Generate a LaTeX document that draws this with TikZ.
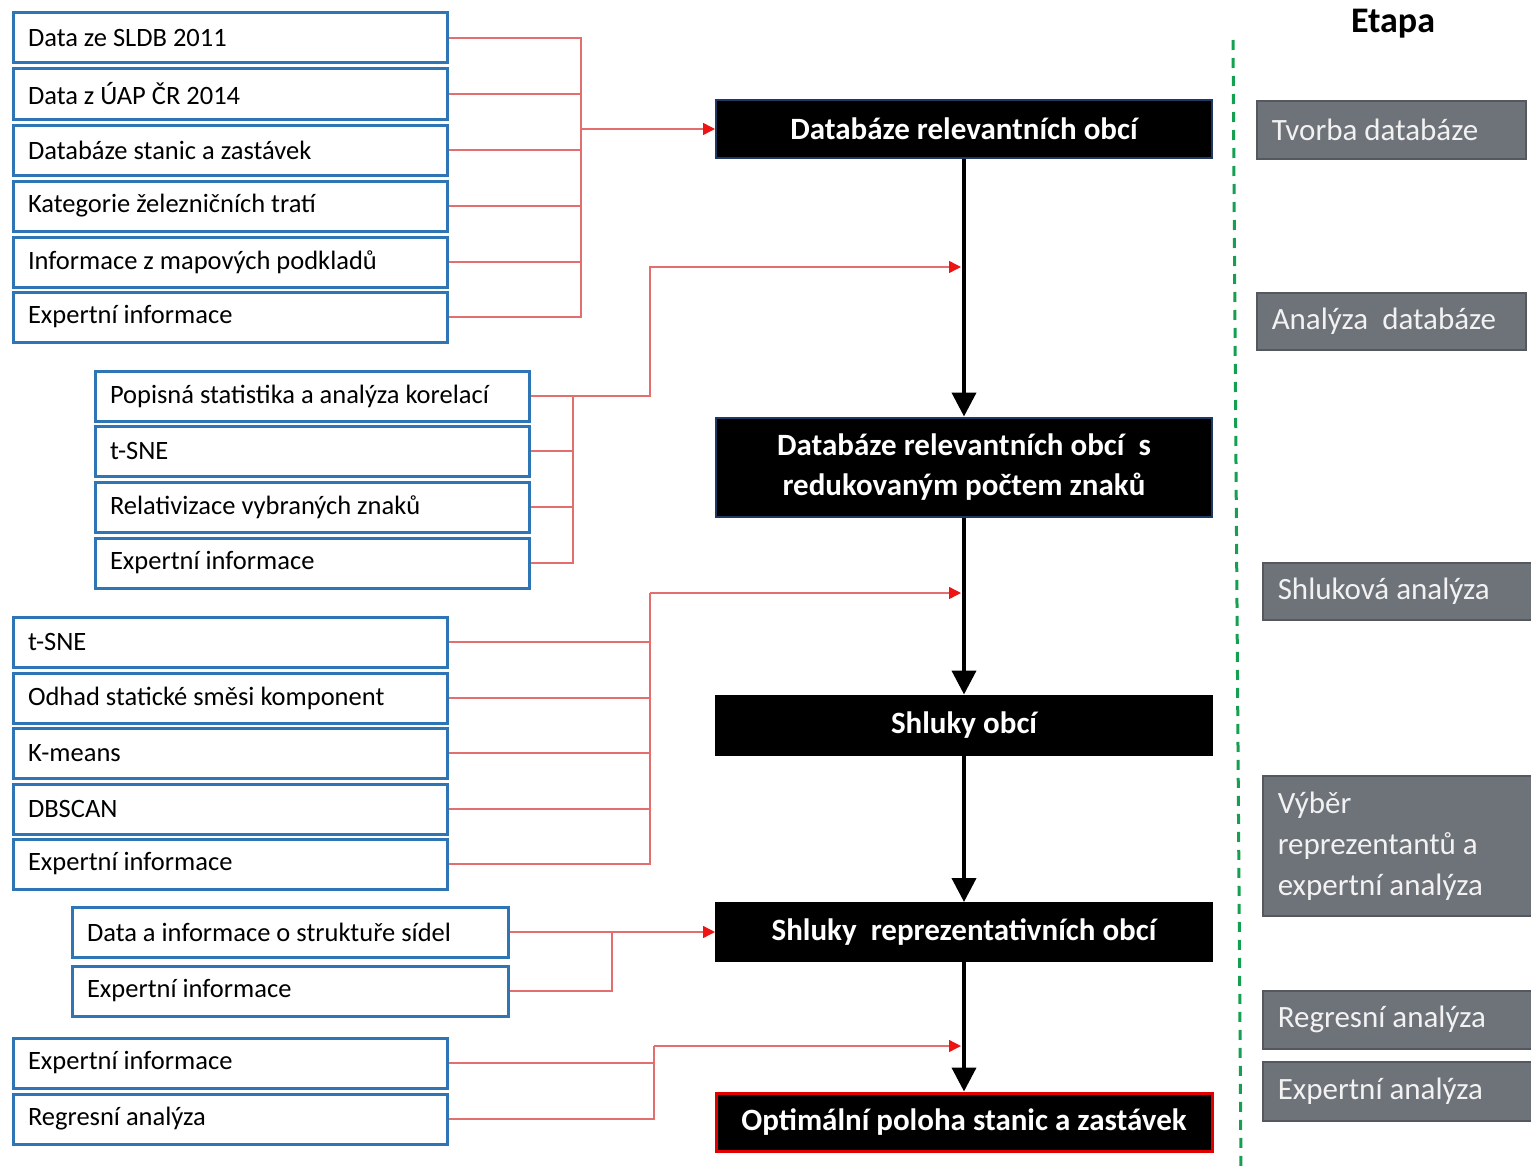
\documentclass[tikz,border=0pt]{standalone}
\usepackage{fontspec}
\setmainfont{Carlito}
\usetikzlibrary{arrows.meta}
\definecolor{boxblue}{RGB}{46,117,182}
\definecolor{connred}{RGB}{226,110,110}
\definecolor{tipred}{RGB}{238,20,20}
\definecolor{etgray}{RGB}{110,114,121}
\definecolor{etborder}{RGB}{85,88,94}
\definecolor{etext}{RGB}{242,242,242}
\definecolor{navyb}{RGB}{31,56,100}
\definecolor{dashgreen}{RGB}{20,160,80}
\definecolor{optred}{RGB}{225,0,0}
\begin{document}
\begin{tikzpicture}[x=1pt,y=-1pt,
  inbox/.style={draw=boxblue, line width=3pt, fill=white, minimum height=50pt,
    text width=405pt, inner xsep=14.5pt, inner ysep=0pt, align=flush left, anchor=west,
    font=\fontsize{26.5}{30}\selectfont},
  mainbox/.style={fill=black, text=white, minimum width=496pt, text width=470pt,
    inner xsep=13pt, align=flush center, line width=2pt,
    font=\bfseries\fontsize{31}{40}\selectfont},
  stagebox/.style={fill=etgray, draw=etborder, line width=1.5pt, text=etext,
    anchor=north west, text width=239pt, inner xsep=15pt, inner ysep=0pt, align=flush left,
    font=\fontsize{31}{41}\selectfont},
  conn/.style={draw=connred, line width=1.4pt},
  redarrow/.style={conn, -{Triangle[width=12pt,length=12pt,color=tipred]}},
  spine/.style={draw=black, line width=4pt, -{Triangle[width=24pt,length=24pt]}}
]
\useasboundingbox (0,0) rectangle (1531,1172);

% ---------- stage column ----------
\node[font=\bfseries\fontsize{36}{40}\selectfont] (etapa) at (1393,24) {Etapa};
\draw[dashgreen, line width=3pt, dash pattern=on 10pt off 8pt] (1233,40) -- (1241,1172);

\node[stagebox, minimum width=269pt, minimum height=58pt] (s1) at (1256,100) {Tvorba databáze};
\node[stagebox, minimum width=269pt, minimum height=57pt] (s2) at (1256,292) {Analýza\ \ databáze};
\node[stagebox, minimum width=269pt, minimum height=57pt] (s3) at (1262,562) {Shluková analýza};
\node[stagebox, minimum width=269pt, minimum height=140pt] (s4) at (1262,775) {Výběr\\reprezentantů a\\expertní analýza};
\node[stagebox, minimum width=269pt, minimum height=58pt] (s5) at (1262,990) {Regresní analýza};
\node[stagebox, minimum width=269pt, minimum height=59pt] (s6) at (1262,1061) {Expertní analýza};

% ---------- main column ----------
\node[mainbox, draw=navyb, minimum height=58pt] (n1) at (964,129) {Databáze relevantních obcí};
\node[mainbox, draw=navyb, minimum height=99pt] (n2) at (964,467) {Databáze relevantních obcí\ \ s\\redukovaným počtem znaků};
\node[mainbox, draw=black, minimum height=59pt] (n3) at (964,725) {Shluky obcí};
\node[mainbox, draw=black, minimum height=58pt] (n4) at (964,932) {Shluky\ \ reprezentativních obcí};
\node[mainbox, draw=optred, line width=3pt, minimum height=58pt] (n5) at (964,1122) {Optimální poloha stanic a zastávek};

\draw[spine] (n1.south) -- (n2.north);
\draw[spine] (n2.south) -- (n3.north);
\draw[spine] (n3.south) -- (n4.north);
\draw[spine] (n4.south) -- (n5.north);

\coordinate (j1) at (961,267);
\coordinate (j2) at (961,593);
\coordinate (j3) at (961,1046);

% ---------- group 1 ----------
\node[inbox] (g1a) at (12,38)  {Data ze SLDB 2011};
\node[inbox] (g1b) at (12,94)  {Data z ÚAP ČR 2014};
\node[inbox] (g1c) at (12,150) {Databáze stanic a zastávek};
\node[inbox] (g1d) at (12,206) {Kategorie železničních tratí};
\node[inbox] (g1e) at (12,262) {Informace z mapových podkladů};
\node[inbox] (g1f) at (12,317) {Expertní informace};
\coordinate (b1) at (581,129);
\foreach \n in {g1a,g1b,g1c,g1d,g1e,g1f} \draw[conn] (\n.east) -| (b1);
\draw[redarrow] (b1) -- (n1.west);

% ---------- group 2 ----------
\node[inbox] (g2a) at (94,396) {Popisná statistika a analýza korelací};
\node[inbox] (g2b) at (94,451) {t-SNE};
\node[inbox] (g2c) at (94,507) {Relativizace vybraných znaků};
\node[inbox] (g2d) at (94,563) {Expertní informace};
\coordinate (b2) at (573,396);
\foreach \n in {g2b,g2c,g2d} \draw[conn] (\n.east) -| (b2);
\draw[redarrow] (g2a.east) -- (650,396) |- (j1);

% ---------- group 3 ----------
\node[inbox] (g3a) at (12,642) {t-SNE};
\node[inbox] (g3b) at (12,698) {Odhad statické směsi komponent};
\node[inbox] (g3c) at (12,753) {K-means};
\node[inbox] (g3d) at (12,809) {DBSCAN};
\node[inbox] (g3e) at (12,864) {Expertní informace};
\coordinate (b3) at (650,593);
\foreach \n in {g3a,g3b,g3c,g3d,g3e} \draw[conn] (\n.east) -| (b3);
\draw[redarrow] (b3) -- (j2);

% ---------- group 4 ----------
\node[inbox, text width=407pt] (g4a) at (71,932) {Data a informace o struktuře sídel};
\node[inbox, text width=407pt] (g4b) at (71,991) {Expertní informace};
\coordinate (b4) at (612,932);
\draw[redarrow] (g4a.east) -- (n4.west);
\draw[conn] (g4b.east) -| (b4);

% ---------- group 5 ----------
\node[inbox] (g5a) at (12,1063) {Expertní informace};
\node[inbox] (g5b) at (12,1119) {Regresní analýza};
\coordinate (b5) at (654,1046);
\foreach \n in {g5a,g5b} \draw[conn] (\n.east) -| (b5);
\draw[redarrow] (b5) -- (j3);
\end{tikzpicture}
\end{document}
